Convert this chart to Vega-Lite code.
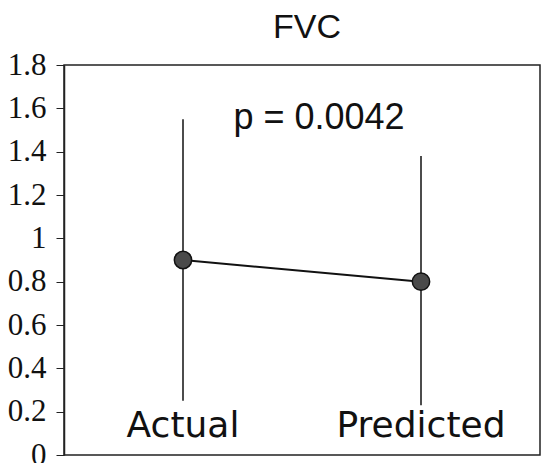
{
  "$schema": "https://vega.github.io/schema/vega-lite/v6.json",
  "width": 476,
  "height": 390,
  "autosize": {"type": "none"},
  "padding": {"left": 64, "top": 65, "right": 1, "bottom": 8},
  "background": "white",
  "title": {"text": "FVC", "font": "Liberation Sans", "fontSize": 34, "fontWeight": "normal", "color": "#111", "offset": 4, "anchor": "middle", "dx": 5},
  "config": {"view": {"stroke": "#222", "strokeWidth": 1.5}},
  "data": {"values": [
    {"group": "Actual", "mean": 0.90, "lo": 0.25, "hi": 1.55},
    {"group": "Predicted", "mean": 0.80, "lo": 0.23, "hi": 1.38}
  ]},
  "encoding": {
    "x": {"field": "group", "type": "nominal", "scale": {"type": "point", "padding": 0.5, "domain": ["Actual", "Predicted"]}, "axis": null}
  },
  "layer": [
    {
      "mark": {"type": "rule", "color": "#111", "strokeWidth": 1.5},
      "encoding": {
        "y": {"field": "lo", "type": "quantitative", "scale": {"domain": [0, 1.8], "nice": false, "zero": true},
          "axis": {"values": [0, 0.2, 0.4, 0.6, 0.8, 1, 1.2, 1.4, 1.6, 1.8], "format": ".1~f", "title": null, "grid": false,
            "labelFont": "Liberation Serif", "labelFontSize": 31, "labelColor": "#111", "labelPadding": 10,
            "tickColor": "#222", "tickSize": 8, "tickWidth": 1, "domainColor": "#222", "domainWidth": 1.5, "labelBaseline": "middle"}},
        "y2": {"field": "hi"}
      }
    },
    {
      "mark": {"type": "line", "color": "#111", "strokeWidth": 2},
      "encoding": {"y": {"field": "mean", "type": "quantitative"}}
    },
    {
      "mark": {"type": "point", "filled": true, "fill": "#4a4a4a", "stroke": "#111", "strokeWidth": 1.5, "size": 300, "opacity": 1},
      "encoding": {"y": {"field": "mean", "type": "quantitative"}}
    },
    {
      "mark": {"type": "text", "font": "DejaVu Sans", "fontSize": 36, "baseline": "alphabetic", "align": "center", "color": "#111"},
      "encoding": {
        "y": {"datum": 0.083, "type": "quantitative"},
        "text": {"field": "group"}
      }
    },
    {
      "data": {"values": [{"label": "p = 0.0042"}]},
      "mark": {"type": "text", "font": "Liberation Sans", "fontSize": 36, "baseline": "alphabetic", "align": "center", "color": "#111", "dx": 17},
      "encoding": {
        "x": null,
        "y": {"datum": 1.504, "type": "quantitative"},
        "text": {"field": "label"}
      }
    }
  ]
}
